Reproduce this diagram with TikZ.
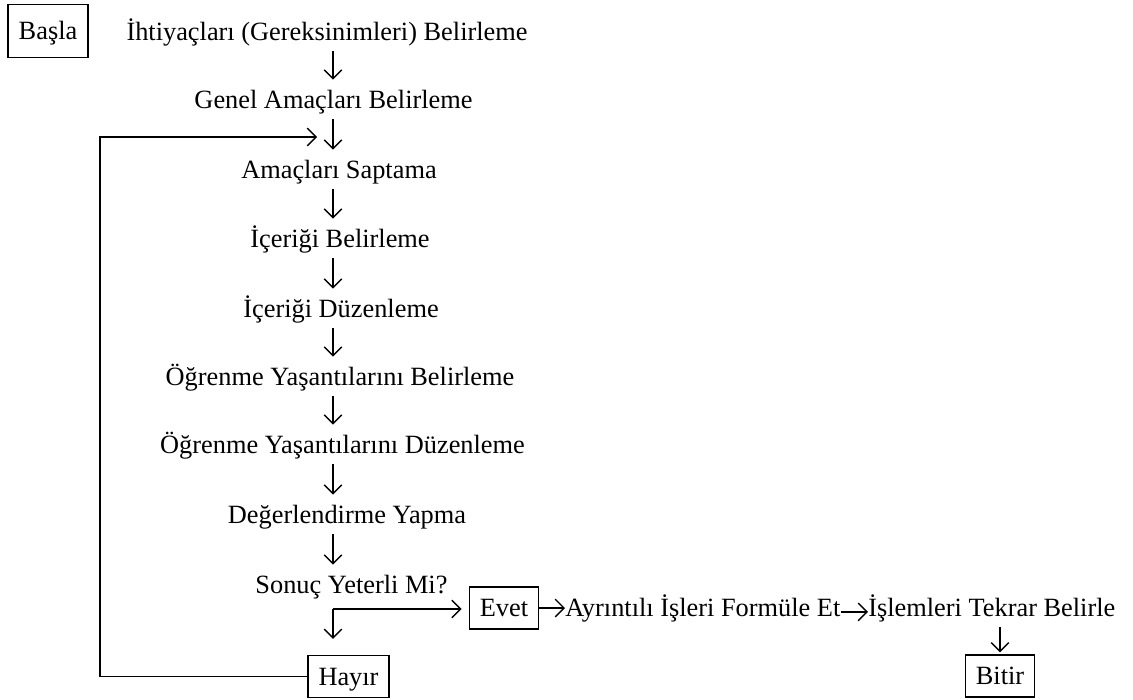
\documentclass[tikz,border=0pt]{standalone}
\usepackage{fontspec}
\setmainfont{Liberation Serif}
\usetikzlibrary{arrows.meta}

\tikzset{
  stage/.style={anchor=base, inner xsep=0pt, inner ysep=6pt, text height=9.9pt, text depth=0pt},
  endbox/.style={draw, line width=0.8pt, inner xsep=6pt, inner ysep=0pt, text height=9.9pt, text depth=0pt, minimum height=24pt},
  flow/.style={-{Straight Barb[length=5pt,width=10pt]}, line width=0.8pt}
}

\begin{document}
\begin{tikzpicture}[x=0.02cm, y=-0.02cm, font=\fontsize{15pt}{18pt}\selectfont]
    \useasboundingbox (0,0) rectangle (1133,700);

    % Nodes
    \node[endbox, minimum height=30.5pt] (basla) at (48,31) {Başla};
    \node[stage] (ihtiyac) at (327,40) {İhtiyaçları (Gereksinimleri) Belirleme};
    \node[stage] (genel) at (333.5,108) {Genel Amaçları Belirleme};
    \node[stage] (saptama) at (339,178) {Amaçları Saptama};
    \node[stage] (icbelir) at (340,247) {İçeriği Belirleme};
    \node[stage] (icduzen) at (341,317) {İçeriği Düzenleme};
    \node[stage] (yasbelir) at (340,385) {Öğrenme Yaşantılarını Belirleme};
    \node[stage] (yasduzen) at (342.5,453) {Öğrenme Yaşantılarını Düzenleme};
    \node[stage] (deger) at (347,523) {Değerlendirme Yapma};
    \node[stage] (sonuc) at (351.5,593) {Sonuç Yeterli Mi?};
    \node[endbox] (evet) at (504,608) {Evet};
    \node[endbox] (hayir) at (348.5,676.5) {Hayır};
    \node[stage, anchor=base west] (ayrinti) at (565,616) {Ayrıntılı İşleri Formüle Et};
    \node[stage, anchor=base west] (islem) at (868,616) {İşlemleri Tekrar Belirle};
    \node[endbox] (bitir) at (1000,676) {Bitir};

    \coordinate (col) at (333,0);
    \coordinate (br) at (333,609);
    \coordinate (lft) at (100,137);
    \coordinate (back) at (317,137);

    % Arrows
    \draw[flow] (ihtiyac.south -| col) -- (genel.north -| col);
    \draw[flow] (genel.south -| col) -- (saptama.north -| col);
    \draw[flow] (saptama.south -| col) -- (icbelir.north -| col);
    \draw[flow] (icbelir.south -| col) -- (icduzen.north -| col);
    \draw[flow] (icduzen.south -| col) -- (yasbelir.north -| col);
    \draw[flow] (yasbelir.south -| col) -- (yasduzen.north -| col);
    \draw[flow] (yasduzen.south -| col) -- (deger.north -| col);
    \draw[flow] (deger.south -| col) -- (sonuc.north -| col);
    \draw[flow, shorten >=4pt] (br) -- (br -| evet.west);
    \draw[flow, shorten >=9pt] (br) -- (br |- hayir.north);
    \draw[flow] (hayir.west) -| (lft) -- (back);
    \draw[flow] (evet.east) -- (evet.east -| ayrinti.west);
    \draw[flow] (ayrinti.mid east) -- (islem.mid west);
    \draw[flow, shorten >=1pt] (islem.south -| bitir) -- (bitir.north);
\end{tikzpicture}
\end{document}
